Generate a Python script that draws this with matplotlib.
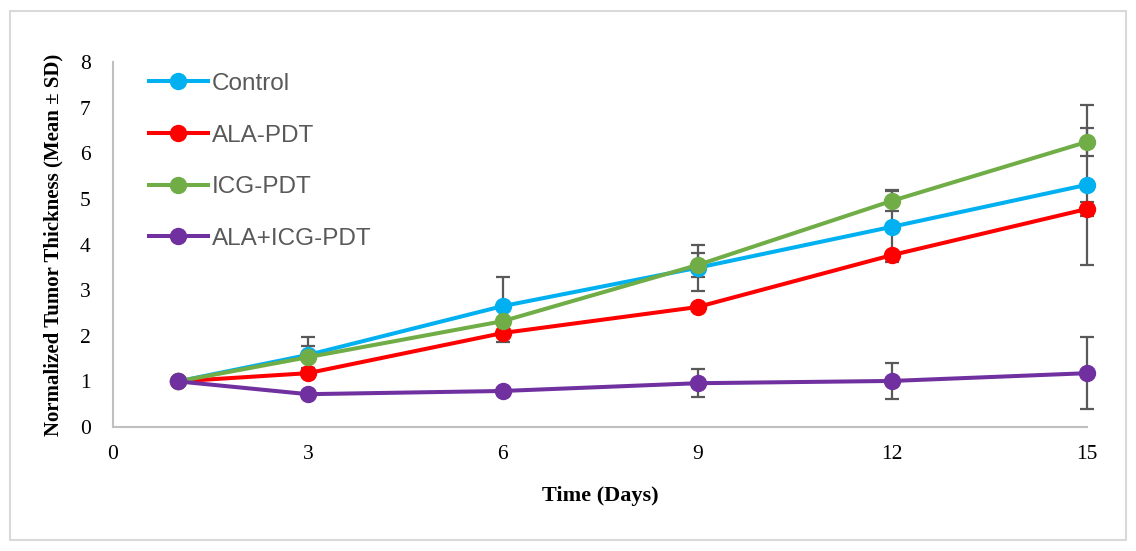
import numpy as np
import matplotlib.pyplot as plt
from matplotlib.patches import Rectangle

days = [1, 3, 6, 9, 12, 15]
groups = ['Control', 'ALA-PDT', 'ICG-PDT', 'ALA+ICG-PDT']
control = [1.00, 1.58, 2.65, 3.49, 4.39, 5.31]
ala_pdt = [1.00, 1.18, 2.06, 2.63, 3.77, 4.78]
icg_pdt = [1.00, 1.53, 2.32, 3.55, 4.96, 6.25]
ala_icg_pdt = [1.00, 0.72, 0.79, 0.96, 1.01, 1.18]
control_sd = [0.0, 0.40, 0.64, 0.50, 0.78, 1.75]
ala_pdt_sd = [0.0, 0.05, 0.20, 0.05, 0.05, 0.15]
icg_pdt_sd = [0.0, 0.24, 0.05, 0.27, 0.23, 0.31]
ala_icg_pdt_sd = [0.0, 0.05, 0.05, 0.31, 0.40, 0.79]
colors = ['#00B0F0', '#FF0000', '#70AD47', '#7030A0']
x_ticks = [0, 3, 6, 9, 12, 15]

means = [control, ala_pdt, icg_pdt, ala_icg_pdt]
sds = [control_sd, ala_pdt_sd, icg_pdt_sd, ala_icg_pdt_sd]

fig = plt.figure(figsize=(11.36, 5.51), dpi=100)
ax = fig.add_axes([0.0995, 0.225, 0.8575, 0.6625])

# outer chart border
fig.patches.append(Rectangle((10 / 1136, 11 / 551), 1116 / 1136, 529 / 551,
                             transform=fig.transFigure, fill=False,
                             ec='#d9d9d9', lw=1.5))

handles = []
for m, s, c, name in zip(means, sds, colors, groups):
    ax.errorbar(days, m, yerr=s, fmt='none', ecolor='#595959', elinewidth=1.6,
                capsize=5, capthick=1.6, zorder=2, clip_on=False)
    h, = ax.plot(days, m, color=c, lw=2.9, marker='o', ms=11.5, label=name,
                 zorder=3, clip_on=False)
    handles.append(h)

ax.set_xlim(0, 15)
ax.set_ylim(0, 8)
ax.set_xticks(x_ticks)
ax.set_yticks(range(0, 9))
ax.tick_params(length=0, labelsize=15.5)
ax.tick_params(axis='y', pad=16)
ax.tick_params(axis='x', pad=13)
for lab in ax.get_xticklabels() + ax.get_yticklabels():
    lab.set_fontfamily('Liberation Serif')
for side in ['top', 'right']:
    ax.spines[side].set_visible(False)
for side in ['left', 'bottom']:
    ax.spines[side].set_color('#bfbfbf')
    ax.spines[side].set_linewidth(1.5)

ax.set_xlabel('Time (Days)', fontfamily='Liberation Serif', fontweight='bold',
              fontsize=16, labelpad=16)
ax.set_ylabel('Normalized Tumor Thickness (Mean ± SD)', fontfamily='Liberation Serif',
              fontweight='bold', fontsize=15, labelpad=12)

leg = ax.legend(handles=handles, loc='upper left', bbox_to_anchor=(0.014, 1.03),
                frameon=False, handlelength=2.45, handletextpad=0.15,
                labelspacing=1.22, prop={'family': 'Liberation Sans', 'size': 17.5})
for t in leg.get_texts():
    t.set_color('#595959')

fig.savefig('out.png', dpi=100)
